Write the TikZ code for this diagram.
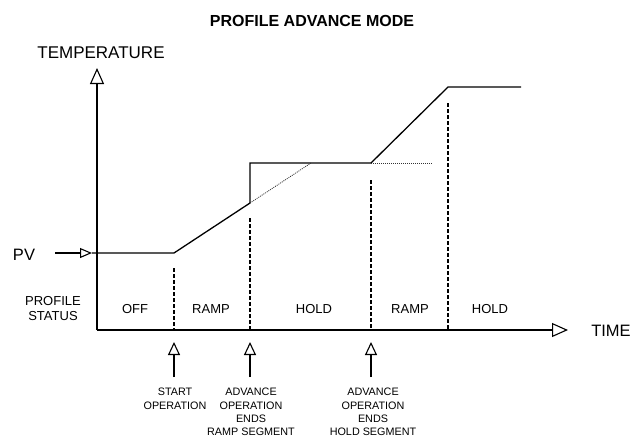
\documentclass[tikz,border=0pt]{standalone}
\usepackage{fontspec}
\setmainfont{Liberation Sans}
\usetikzlibrary{arrows.meta}
\begin{document}
\begin{tikzpicture}[x=1pt,y=-1pt,
  ln/.style={line width=1.3pt},
  bigarrow/.style={ln,-{Triangle[open,length=16pt,width=14pt,line width=1.1pt]}},
  smallarrow/.style={ln,-{Triangle[open,length=13pt,width=12pt,line width=1.1pt]}},
  pvarrow/.style={ln,-{Triangle[open,length=12pt,width=10pt,line width=1.1pt]}},
  dashline/.style={line width=1.1pt,dash pattern=on 4pt off 2pt},
  dotline/.style={line width=0.8pt,dash pattern=on 1pt off 1pt,black!80},
  titletext/.style={font=\fontsize{16}{18}\selectfont\bfseries,inner sep=0pt},
  bigtext/.style={font=\fontsize{16.5}{18}\selectfont,inner sep=0pt},
  midtext/.style={font=\fontsize{13}{15}\selectfont,align=center,inner sep=0pt},
  smalltext/.style={font=\fontsize{10.8}{13.3}\selectfont,align=center,inner sep=0pt,anchor=north}]

\useasboundingbox (0,0) rectangle (634,437);

% title and axis labels
\node[titletext] (title) at (312,21) {PROFILE ADVANCE MODE};
\node[bigtext,font=\fontsize{17}{18}\selectfont] (temp) at (101,53) {TEMPERATURE};
\node[bigtext] (pv) at (24,255) {PV};
\node[bigtext] (time) at (611,331) {TIME};
\node[midtext] (status) at (53,308.5) {PROFILE\\STATUS};

% status labels
\node[midtext] (off) at (135,309) {OFF};
\node[midtext] (ramp1) at (211,309) {RAMP};
\node[midtext] (hold1) at (314,309) {HOLD};
\node[midtext] (ramp2) at (410,309) {RAMP};
\node[midtext] (hold2) at (490,309) {HOLD};

% axes
\coordinate (O) at (97,330);
\coordinate (ytop) at (97,68);
\coordinate (xend) at (568,330);
\draw[bigarrow] (O) -- (ytop);
\draw[bigarrow] (O) -- (xend);

% PV arrow
\coordinate (pvs) at (55,253);
\coordinate (pve) at (92,253);
\draw[pvarrow] (pvs) -- (pve);

% profile curve
\coordinate (c1) at (174,253);
\coordinate (c2) at (250,203);
\coordinate (c3) at (250,163);
\coordinate (c4) at (371,163);
\coordinate (c5) at (448,87);
\coordinate (c6) at (521,87);
\draw[ln,line join=miter] (pve) -- (c1) -- (c2) -- (c3) -- (c4) -- (c5) -- (c6);

% dotted continuations
\coordinate (d1) at (311,163);
\coordinate (d2) at (433,163);
\draw[dotline] (c2) -- (d1);
\draw[dotline] (c4) -- (d2);

% dashed verticals
\coordinate (v1t) at (174,268); \coordinate (v1b) at (174,330);
\coordinate (v2t) at (250,218); \coordinate (v2b) at (250,330);
\coordinate (v3t) at (371,180); \coordinate (v3b) at (371,330);
\coordinate (v4t) at (448,103); \coordinate (v4b) at (448,330);
\draw[dashline] (v1t) -- (v1b);
\draw[dashline] (v2t) -- (v2b);
\draw[dashline] (v3t) -- (v3b);
\draw[dashline] (v4t) -- (v4b);

% event arrows
\coordinate (a1s) at (174,377); \coordinate (a1e) at (174,342);
\coordinate (a2s) at (250,377); \coordinate (a2e) at (250,342);
\coordinate (a3s) at (371,377); \coordinate (a3e) at (371,342);
\draw[smallarrow] (a1s) -- (a1e);
\draw[smallarrow] (a2s) -- (a2e);
\draw[smallarrow] (a3s) -- (a3e);

% event labels
\node[smalltext] (ev1) at (175,388) {START\\OPERATION};
\node[smalltext] (ev2) at (251,388) {ADVANCE\\OPERATION\\ENDS\\RAMP SEGMENT};
\node[smalltext] (ev3) at (373,388) {ADVANCE\\OPERATION\\ENDS\\HOLD SEGMENT};
\end{tikzpicture}
\end{document}
